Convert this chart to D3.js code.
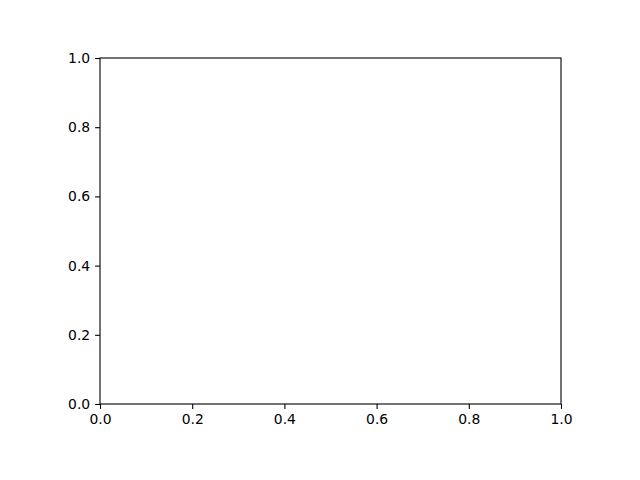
<!DOCTYPE html>
<html>
<head>
<meta charset="utf-8">
<script src="https://cdn.jsdelivr.net/npm/d3@7"></script>
<style>
  body { margin: 0; background: #fff; }
  .axis text { font-family: "DejaVu Sans", sans-serif; font-size: 13.9px; fill: #000; }
  .axis path, .axis line { stroke: #000; stroke-width: 1.1; }
</style>
</head>
<body>
<svg id="chart" width="640" height="480"></svg>
<script>
// axis ranges and tick labels (empty axes, no series)
const xDomain = [0, 1];
const yDomain = [0, 1];
const xTicks = [0.0, 0.2, 0.4, 0.6, 0.8, 1.0];
const yTicks = [0.0, 0.2, 0.4, 0.6, 0.8, 1.0];

const margin = { top: 58, right: 79, bottom: 76, left: 100 };
const width = 640 - margin.left - margin.right;
const height = 480 - margin.top - margin.bottom;

const svg = d3.select("#chart");
const g = svg.append("g").attr("transform", `translate(${margin.left},${margin.top})`);

const x = d3.scaleLinear().domain(xDomain).range([0, width]);
const y = d3.scaleLinear().domain(yDomain).range([height, 0]);

// frame
g.append("rect")
  .attr("x", 0).attr("y", 0)
  .attr("width", width).attr("height", height)
  .attr("fill", "none")
  .attr("stroke", "#000")
  .attr("stroke-width", 1.1);

g.append("g")
  .attr("class", "axis")
  .attr("transform", `translate(0,${height})`)
  .call(d3.axisBottom(x).tickValues(xTicks).tickFormat(d3.format(".1f")).tickSize(4.9).tickPadding(4.9).tickSizeOuter(0))
  .call(s => s.select(".domain").remove());

g.append("g")
  .attr("class", "axis")
  .call(d3.axisLeft(y).tickValues(yTicks).tickFormat(d3.format(".1f")).tickSize(4.9).tickPadding(4.9).tickSizeOuter(0))
  .call(s => s.select(".domain").remove());
</script>
</body>
</html>
